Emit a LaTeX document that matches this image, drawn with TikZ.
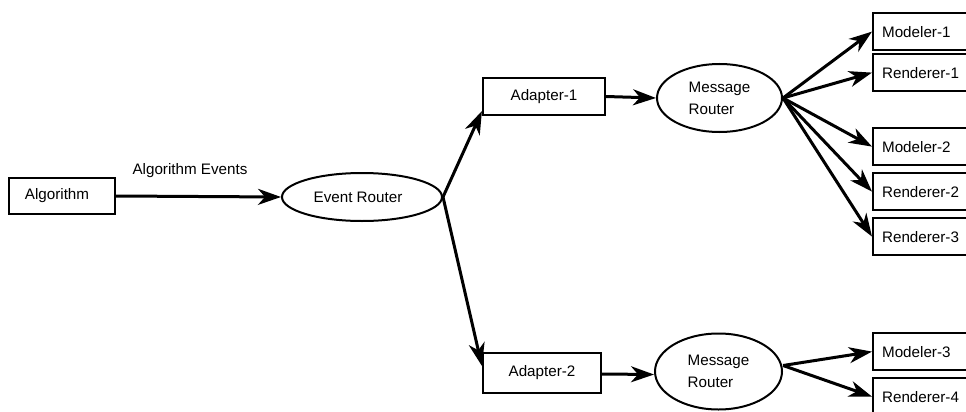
\documentclass[tikz,border=0pt]{standalone}
\usepackage{fontspec}
\setmainfont{Liberation Sans}
\usetikzlibrary{shapes.geometric,arrows.meta}
\begin{document}
\begin{tikzpicture}[x=1pt,y=-1pt,
  font=\fontsize{15.2}{22}\selectfont,
  box/.style={draw,line width=2.2pt,inner sep=0pt},
  rbox/.style={draw,line width=2.2pt,anchor=north west,minimum height=37pt,text width=100pt,inner xsep=9pt,inner ysep=0pt,align=left},
  oval/.style={draw,ellipse,line width=2pt,inner sep=0pt},
  conn/.style={line width=3pt,-{Stealth[length=23pt,width=16pt,inset=7pt]}}]
\clip (0,0) rectangle (966,412);
\node[box,minimum width=106pt,minimum height=36pt] (alg) at (62,196) {\hspace*{-10pt}Algorithm};
\node (lbl) at (190,171) {Algorithm Events};
\node[oval,minimum width=160pt,minimum height=48pt] (er) at (362,197) {\hspace*{-8pt}Event Router};
\node[box,minimum width=122pt,minimum height=37pt] (a1) at (544,96.5) {Adapter-1};
\node[box,minimum width=118pt,minimum height=40pt] (a2) at (542,373) {Adapter-2};
\node[oval,minimum width=125pt,minimum height=68pt,align=left] (mr1) at (719.5,98) {Message\\Router};
\node[oval,minimum width=127pt,minimum height=76pt,align=left] (mr2) at (718.5,371.5) {Message\\Router};
\node[rbox] (m1) at (872,12) {Modeler-1};
\node[rbox] (r1) at (872,53) {Renderer-1};
\node[rbox] (m2) at (872,127) {Modeler-2};
\node[rbox] (r2) at (872,172) {Renderer-2};
\node[rbox] (r3) at (872,217) {Renderer-3};
\node[rbox] (m3) at (872,332) {Modeler-3};
\node[rbox] (r4) at (872,377) {Renderer-4};
\draw[conn] (alg.east) -- (er.west);
\draw[conn] (er.east) -- ([yshift=5pt]a1.south west);
\draw[conn] (er.east) -- ([yshift=-14pt]a2.north west);
\draw[conn] (a1.east) -- (mr1.west);
\draw[conn] ([yshift=-1pt]a2.east) -- ([yshift=-3pt]mr2.west);
\draw[conn] (mr1.east) -- (m1.west);
\draw[conn] (mr1.east) -- (r1.west);
\draw[conn] (mr1.east) -- (m2.west);
\draw[conn] (mr1.east) -- (r2.west);
\draw[conn] (mr1.east) -- (r3.west);
\draw[conn] ([yshift=6pt]mr2.east) -- (m3.west);
\draw[conn] ([yshift=6pt]mr2.east) -- (r4.west);
\end{tikzpicture}
\end{document}
